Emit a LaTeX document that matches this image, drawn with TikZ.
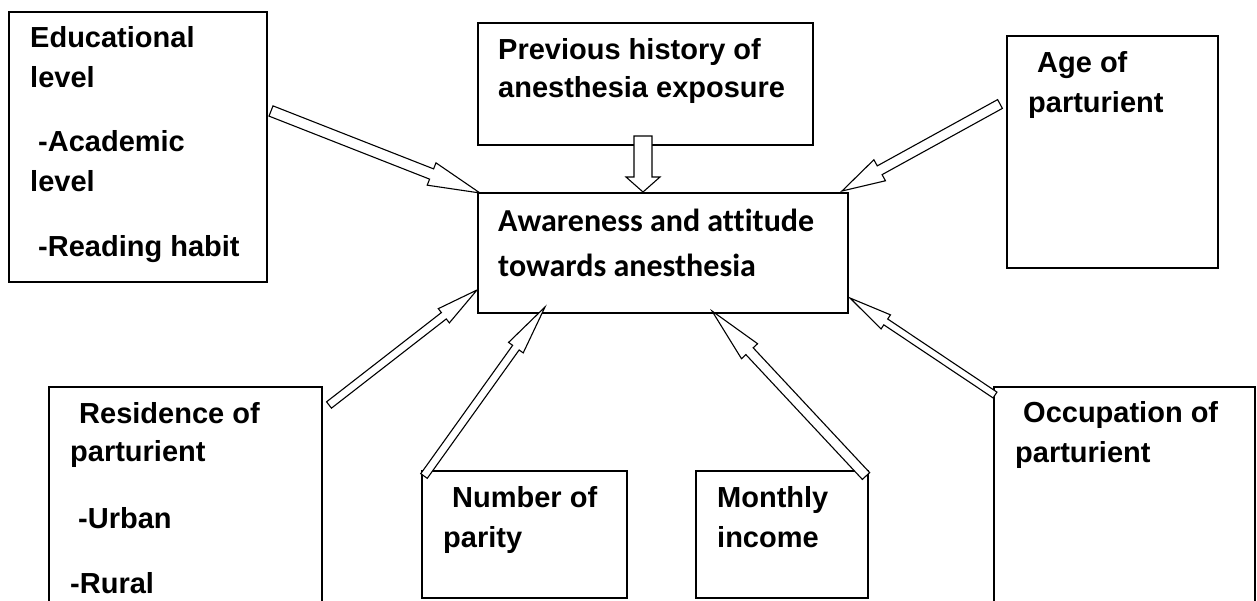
\documentclass[tikz,border=0pt]{standalone}
\usepackage{fontspec}
\setmainfont{Liberation Sans}
\newfontfamily\calfont[Ligatures=NoCommon]{Carlito}
\usetikzlibrary{calc}
\tikzset{
  box/.style={draw=black, line width=1.6pt, rectangle, anchor=north west, inner sep=0pt},
  lbl/.style={anchor=base west, inner sep=0pt, font=\fontsize{29}{34}\selectfont\bfseries},
  clbl/.style={anchor=base west, inner sep=0pt, font=\fontsize{32}{38}\calfont\bfseries},
  harr/.style={draw=black, line width=1.1pt, fill=white, line join=miter},
}
\newcommand{\harrow}[5]{%
  \coordinate (hb) at ($(#2)!#5!(#1)$);
  \draw[harr] ($(#1)!#3!90:(#2)$) -- ($(hb)!#3!-90:(#1)$) -- ($(hb)!#4!-90:(#1)$) -- (#2)
    -- ($(hb)!#4!90:(#1)$) -- ($(hb)!#3!90:(#1)$) -- ($(#1)!#3!-90:(#2)$) -- cycle;
}
\begin{document}
\begin{tikzpicture}[x=1pt,y=-1pt]
\useasboundingbox (0,0) rectangle (1257,601);
\clip (0,0) rectangle (1257,601);
\fill[white] (0,0) rectangle (1257,601);
% boxes
\node[box, minimum width=258pt, minimum height=270pt] (edu) at (8,11) {};
\node[box, minimum width=335pt, minimum height=122pt] (prev) at (477,22) {};
\node[box, minimum width=370pt, minimum height=120pt] (cen) at (477,192) {};
\node[box, minimum width=211pt, minimum height=232pt] (age) at (1006,35) {};
\node[box, minimum width=273pt, minimum height=240pt] (res) at (48,386) {};
\node[box, minimum width=205pt, minimum height=127pt] (par) at (421,470) {};
\node[box, minimum width=172pt, minimum height=127pt] (inc) at (695,470) {};
\node[box, minimum width=261pt, minimum height=240pt] (occ) at (993,386) {};
% texts
\node[lbl] (t1) at (30,48) {Educational};
\node[lbl] (t2) at (30,88) {level};
\node[lbl] (t3) at (38,152) {-Academic};
\node[lbl] (t4) at (30,192) {level};
\node[lbl] (t5) at (38,257) {-Reading habit};
\node[lbl] (t6) at (498,60) {Previous history of};
\node[lbl] (t7) at (498,98) {anesthesia exposure};
\node[clbl] (t8) at (498,232) {Awareness and attitude};
\node[clbl] (t9) at (498,277) {towards anesthesia};
\node[lbl] (t10) at (1037,73) {Age of};
\node[lbl] (t11) at (1028,113) {parturient};
\node[lbl] (t12) at (79,423) {Residence of};
\node[lbl] (t13) at (70,461) {parturient};
\node[lbl] (t14) at (78,528) {-Urban};
\node[lbl] (t15) at (70,593) {-Rural};
\node[lbl] (t16) at (452,507) {Number of};
\node[lbl] (t17) at (443,547) {parity};
\node[lbl] (t18) at (717,507) {Monthly};
\node[lbl] (t19) at (717,547) {income};
\node[lbl] (t20) at (1023,422) {Occupation of};
\node[lbl] (t21) at (1015,462) {parturient};
% arrow end points
\coordinate (eduT) at (271,111);  \coordinate (eduH) at (480,193);
\coordinate (ageT) at (1000,104); \coordinate (ageH) at (842,191);
\coordinate (resT) at (329,405);  \coordinate (resH) at (477,290);
\coordinate (parT) at (424,476);  \coordinate (parH) at (545,307);
\coordinate (incT) at (866,476);  \coordinate (incH) at (712,311);
\coordinate (occT) at (995,395);  \coordinate (occH) at (850,298);
\coordinate (prvT) at (643,136);  \coordinate (prvH) at (643,192);
% arrows
\harrow{eduT}{eduH}{5.5pt}{12pt}{52pt}
\harrow{ageT}{ageH}{5pt}{12pt}{43pt}
\harrow{resT}{resH}{4pt}{9pt}{42pt}
\harrow{parT}{parH}{4pt}{9pt}{50pt}
\harrow{incT}{incH}{5pt}{11pt}{55pt}
\harrow{occT}{occH}{3.5pt}{8.5pt}{43pt}
\harrow{prvT}{prvH}{9pt}{17pt}{15pt}
\end{tikzpicture}
\end{document}
